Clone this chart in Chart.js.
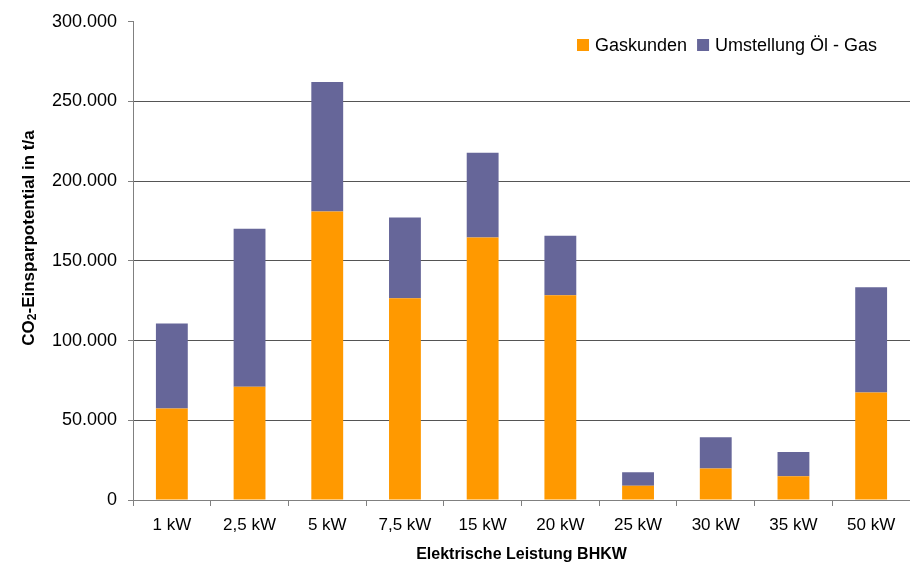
<!DOCTYPE html>
<html>
<head>
<meta charset="utf-8">
<script src="https://cdn.jsdelivr.net/npm/chart.js@4.4.1/dist/chart.umd.min.js"></script>
<style>
  html, body { margin: 0; padding: 0; background: #fff; }
  #wrap { width: 910px; height: 567px; }
</style>
</head>
<body>
<div id="wrap"><canvas id="chart" width="910" height="567"></canvas></div>
<script>
const categories = ["1 kW", "2,5 kW", "5 kW", "7,5 kW", "15 kW", "20 kW", "25 kW", "30 kW", "35 kW", "50 kW"];
const gaskunden = [57400, 71100, 181000, 126600, 164700, 128400, 8900, 19700, 14900, 67400];
const umstellung = [53300, 99000, 81200, 50600, 53100, 37300, 8500, 19600, 15200, 66000];
const seriesNames = ["Gaskunden", "Umstellung Öl - Gas"];
const seriesColors = ["#FF9900", "#666699"];
const yMax = 300000;
const yStep = 50000;

const FONT = "'Liberation Sans', Arial, sans-serif";

// 300000 -> "300.000"
function fmt(v) {
  return String(v).replace(/\B(?=(\d{3})+(?!\d))/g, ".");
}

// legend inside the plot, top right
const innerLegend = {
  id: "innerLegend",
  afterDraw(chart) {
    const c = chart.ctx;
    c.save();
    c.font = "18px " + FONT;
    c.textBaseline = "middle";
    let x = 577;
    const y = 45;
    chart.data.datasets.forEach((ds) => {
      c.fillStyle = ds.backgroundColor;
      c.fillRect(x, y - 6, 12, 12);
      c.fillStyle = "#000";
      c.fillText(ds.label, x + 18, y + 1);
      x += 18 + c.measureText(ds.label).width + 10;
    });
    c.restore();
  },
};

// axis titles (y title has a subscript 2)
const axisTitles = {
  id: "axisTitles",
  afterDraw(chart) {
    const c = chart.ctx;
    const area = chart.chartArea;
    c.save();
    c.fillStyle = "#000";
    c.textBaseline = "alphabetic";

    // x title
    c.font = "bold 16px " + FONT;
    c.textAlign = "center";
    c.fillText("Elektrische Leistung BHKW", (area.left + area.right) / 2, 559);

    // y title, rotated
    const parts = [
      { t: "CO", f: "bold 17px " + FONT, dy: 0 },
      { t: "2", f: "bold 12px " + FONT, dy: 2 },
      { t: "-Einsparpotential in t/a", f: "bold 17px " + FONT, dy: 0 },
    ];
    let total = 0;
    parts.forEach((p) => { c.font = p.f; total += c.measureText(p.t).width; });
    c.translate(34, 238);
    c.rotate(-Math.PI / 2);
    c.textAlign = "left";
    let x = -total / 2;
    parts.forEach((p) => {
      c.font = p.f;
      c.fillText(p.t, x, p.dy);
      x += c.measureText(p.t).width;
    });
    c.restore();
  },
};

new Chart(document.getElementById("chart"), {
  type: "bar",
  data: {
    labels: categories,
    datasets: [
      { label: seriesNames[0], data: gaskunden, backgroundColor: seriesColors[0] },
      { label: seriesNames[1], data: umstellung, backgroundColor: seriesColors[1] },
    ],
  },
  options: {
    responsive: false,
    animation: false,
    layout: { padding: { top: 20, right: 0, bottom: 0, left: 0 } },
    datasets: { bar: { barPercentage: 0.41, categoryPercentage: 1.0, borderWidth: 0 } },
    plugins: {
      legend: { display: false },
      tooltip: { enabled: false },
    },
    scales: {
      x: {
        stacked: true,
        afterFit(s) { s.height = 67; },
        border: { color: "#808080", width: 1 },
        grid: { offset: true, drawOnChartArea: false, drawTicks: true, tickLength: 6, color: "#808080" },
        ticks: { color: "#000", font: { family: FONT, size: 17 }, padding: 9, maxRotation: 0 },
      },
      y: {
        stacked: true,
        min: 0,
        max: yMax,
        afterFit(s) { s.width = 133; },
        border: { color: "#808080", width: 1 },
        grid: {
          color: (ctx) => (ctx.tick && (ctx.tick.value === yMax || ctx.tick.value === 0) ? "rgba(0,0,0,0)" : "#555555"),
          tickColor: "#808080",
          tickLength: 5,
          lineWidth: 1,
        },
        ticks: {
          stepSize: yStep,
          color: "#000",
          font: { family: FONT, size: 18 },
          padding: 11,
          callback: (v) => fmt(v),
        },
      },
    },
  },
  plugins: [innerLegend, axisTitles],
});
</script>
</body>
</html>
